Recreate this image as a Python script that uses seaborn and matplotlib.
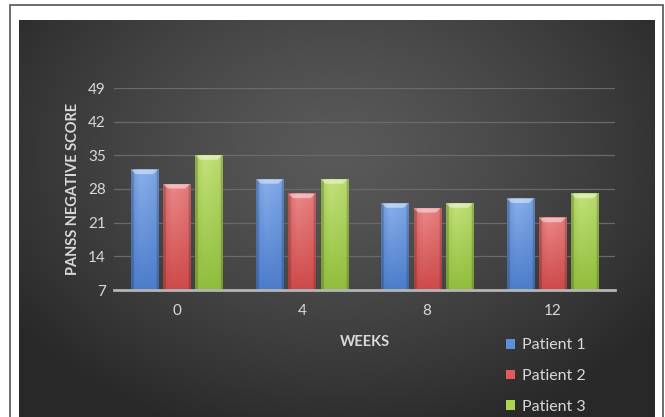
import numpy as np
import pandas as pd
import matplotlib
matplotlib.use("Agg")
import matplotlib.pyplot as plt
import seaborn as sns
from matplotlib.patches import Rectangle

weeks = ["0", "4", "8", "12"]
series_names = ["Patient 1", "Patient 2", "Patient 3"]
patient1 = [32, 30, 25, 26]
patient2 = [29, 27, 24, 22]
patient3 = [35, 30, 25, 27]
y_ticks = [7, 14, 21, 28, 35, 42, 49]

colors = ["#5b8fdc", "#e45a5a", "#a9d64c"]
light = ["#a3c6f8", "#f7a3a3", "#d9f294"]
dark = ["#3d6fc2", "#c63a3a", "#84b42e"]

df = pd.DataFrame({
    "week": weeks * 3,
    "score": patient1 + patient2 + patient3,
    "patient": sum([[n] * len(weeks) for n in series_names], []),
})

sns.set_theme(style="dark")
plt.rcParams["font.family"] = ["Lato", "DejaVu Sans"]

W, H = 665, 417
fig = plt.figure(figsize=(W / 100, H / 100), dpi=100, facecolor="white")

# outer border
fig.add_artist(Rectangle((10 / W, -0.01), (663 - 10) / W, (417 - 4.5) / H + 0.01,
                         transform=fig.transFigure, fill=False,
                         edgecolor="#555555", linewidth=1.2))

# dark radial background
bg = fig.add_axes([19 / W, 0, (655 - 19) / W, (417 - 20) / H])
yy, xx = np.mgrid[0:1:300j, 0:1:480j]
r = np.sqrt(((xx - 0.5) / 0.62) ** 2 + ((yy - 0.33) / 0.75) ** 2)
r = np.clip(r, 0, 1)
val = 0.35 - 0.19 * r ** 1.3
bg.imshow(np.dstack([val, val, val]), extent=[0, 1, 0, 1], aspect="auto",
          origin="upper", interpolation="bilinear")
bg.set_axis_off()

ax = fig.add_axes([114 / W, 1 - 290 / H, (615 - 114) / W, (290 - 88) / H])
ax.set_facecolor("none")
ax.patch.set_alpha(0)

sns.barplot(data=df, x="week", y="score", hue="patient", order=weeks,
            hue_order=series_names, palette=colors, width=0.77, gap=0.16,
            saturation=1, ax=ax, legend=True, zorder=3, edgecolor="none")

ymin, ymax = 7, 49
ax.set_ylim(ymin, ymax)
ax.set_xlim(-0.5, 3.5)
ax.set_yticks(y_ticks)
ax.grid(axis="y", color="#6a6a6a", linewidth=0.9, zorder=0)
ax.grid(axis="x", visible=False)
for s in ["top", "right", "left"]:
    ax.spines[s].set_visible(False)
ax.spines["bottom"].set_color("#b5b5b5")
ax.spines["bottom"].set_linewidth(2)
ax.spines["bottom"].set_zorder(5)

# glossy gradient overlay on each bar (horizontal sheen + vertical fade)
hues = [c for c in series_names for _ in weeks]
tx = np.linspace(0, 1, 48)
for i, p in enumerate(ax.patches[:len(df)]):
    k = series_names.index(hues[i])
    c0 = np.array(matplotlib.colors.to_rgb(dark[k]))
    c1 = np.array(matplotlib.colors.to_rgb(light[k]))
    x0 = p.get_x()
    w = p.get_width()
    top = p.get_y() + p.get_height()
    ty = np.linspace(1, 0, 80)[:, None]  # 1 at top, 0 at bottom
    sheen = np.where(tx < 0.35, tx / 0.35, 1 - (tx - 0.35) / 0.65 * 0.6)[None, :]
    mix = np.clip(0.15 + 0.6 * ty * (0.55 + 0.45 * sheen), 0, 1)
    img = c0[None, None, :] * (1 - mix[..., None]) + c1[None, None, :] * mix[..., None]
    edge = ((tx < 0.1) | (tx > 0.92))[None, :, None]
    img = np.where(edge, img * 0.82, img)
    ax.imshow(img, extent=[x0, x0 + w, ymin, top], origin="upper",
              aspect="auto", zorder=3.5, interpolation="bilinear")
    # top bevel highlight
    ax.fill([x0, x0 + w, x0 + w * 0.82, x0 + w * 0.18],
            [top, top, top - 0.9, top - 0.9],
            color="#ffffff", alpha=0.45, zorder=4, linewidth=0)
ax.set_aspect("auto")
ax.set_xlim(-0.5, 3.5)
ax.set_ylim(ymin, ymax)

tc = "#d9d9d9"
ax.tick_params(axis="both", colors=tc, labelsize=11, length=0)
ax.tick_params(axis="x", pad=10)
ax.tick_params(axis="y", pad=6)
ax.set_xlabel("WEEKS", color=tc, fontsize=10.5, fontweight="bold", labelpad=12)
ax.set_ylabel("PANSS NEGATIVE SCORE", color=tc, fontsize=10.5, fontweight="bold",
              labelpad=6)

handles, labels = ax.get_legend_handles_labels()
ax.get_legend().remove()
leg = fig.legend(handles, labels, loc="upper left",
                 bbox_to_anchor=(500 / W, 1 - 332 / H),
                 frameon=False, fontsize=11.5, labelcolor=tc,
                 handlelength=0.55, handleheight=0.55, handletextpad=0.45,
                 labelspacing=1.05, borderaxespad=0)

fig.savefig("out.png", dpi=100, facecolor="white")
